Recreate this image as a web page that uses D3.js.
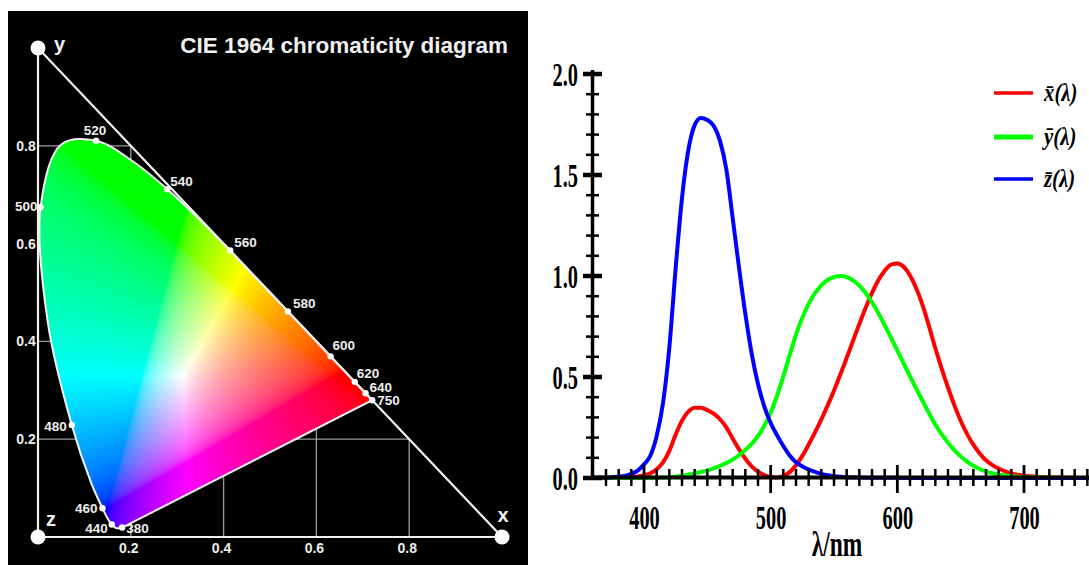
<!DOCTYPE html>
<html><head><meta charset="utf-8">
<script src="https://cdn.jsdelivr.net/npm/d3@7"></script>
<style>html,body{margin:0;padding:0;background:#fff;overflow:hidden}</style>
</head><body>
<svg id="chart" width="1089" height="565" xmlns="http://www.w3.org/2000/svg"></svg>
<script>
// ---------- Left panel data: CIE 1964 spectral locus (chromaticity x, y) ----------
const locusWl = [380,390,400,410,420,430,440,450,460,470,480,490,500,510,520,530,540,550,560,570,580,590,600,610,620,630,640,650,660,670,680,690,700];
const locusX  = [0.1814,0.1803,0.1784,0.1755,0.1706,0.1650,0.1590,0.1510,0.1389,0.1152,0.0728,0.0210,0.0056,0.0495,0.1252,0.2071,0.2786,0.3473,0.4142,0.4790,0.5386,0.5900,0.6306,0.6612,0.6827,0.6955,0.7059,0.7137,0.7168,0.7187,0.7198,0.7202,0.7203];
const locusY  = [0.0193,0.0193,0.0187,0.0181,0.0178,0.0203,0.0257,0.0364,0.0589,0.1090,0.2292,0.4401,0.6745,0.8023,0.8102,0.7663,0.7113,0.6501,0.5858,0.5210,0.4614,0.4100,0.3694,0.3388,0.3173,0.3045,0.2941,0.2863,0.2832,0.2813,0.2802,0.2798,0.2797];
const markWl  = [380,440,460,480,500,520,540,560,580,600,620,640,750];
const markX   = [0.1814,0.1590,0.1389,0.0728,0.0056,0.1252,0.2786,0.4142,0.5386,0.6306,0.6827,0.7059,0.7203];
const markY   = [0.0193,0.0257,0.0589,0.2292,0.6745,0.8102,0.7113,0.5858,0.4614,0.3694,0.3173,0.2941,0.2797];
const cieTicks = [0.2,0.4,0.6,0.8];
const cieTickLabels = ["0.2","0.4","0.6","0.8"];
const cieTitle = "CIE 1964 chromaticity diagram";
const cieAxisNames = ["x","y","z"];

// ---------- Right panel data: CIE 1931 colour matching functions ----------
const wavelengths = [360,365,370,375,380,385,390,395,400,405,410,415,420,425,430,435,440,445,450,455,460,465,470,475,480,485,490,495,500,505,510,515,520,525,530,535,540,545,550,555,560,565,570,575,580,585,590,595,600,605,610,615,620,625,630,635,640,645,650,655,660,665,670,675,680,685,690,695,700,705,710,715,720,725,730,735,740,745,750,755,760];
const xBar = [0.000130,0.000232,0.000415,0.000742,0.001368,0.002236,0.004243,0.007650,0.014310,0.023190,0.043510,0.077630,0.134380,0.214770,0.283900,0.328500,0.348280,0.348060,0.336200,0.318700,0.290800,0.251100,0.195360,0.142100,0.095640,0.057950,0.032010,0.014700,0.004900,0.002400,0.009300,0.029100,0.063270,0.109600,0.165500,0.225750,0.290400,0.359700,0.433450,0.512050,0.594500,0.678400,0.762100,0.842500,0.916300,0.978600,1.026300,1.056700,1.062200,1.045600,1.002600,0.938400,0.854450,0.751400,0.642400,0.541900,0.447900,0.360800,0.283500,0.218700,0.164900,0.121200,0.087400,0.063600,0.046770,0.032900,0.022700,0.015840,0.011359,0.008111,0.005790,0.004109,0.002899,0.002049,0.001440,0.001000,0.000690,0.000476,0.000332,0.000235,0.000166];
const yBar = [0.000004,0.000007,0.000012,0.000022,0.000039,0.000064,0.000120,0.000217,0.000396,0.000640,0.001210,0.002180,0.004000,0.007300,0.011600,0.016840,0.023000,0.029800,0.038000,0.048000,0.060000,0.073900,0.090980,0.112600,0.139020,0.169300,0.208020,0.258600,0.323000,0.407300,0.503000,0.608200,0.710000,0.793200,0.862000,0.914850,0.954000,0.980300,0.994950,1.000000,0.995000,0.978600,0.952000,0.915400,0.870000,0.816300,0.757000,0.694900,0.631000,0.566800,0.503000,0.441200,0.381000,0.321000,0.265000,0.217000,0.175000,0.138200,0.107000,0.081600,0.061000,0.044580,0.032000,0.023200,0.017000,0.011920,0.008210,0.005723,0.004102,0.002929,0.002091,0.001484,0.001047,0.000740,0.000520,0.000361,0.000249,0.000172,0.000120,0.000085,0.000060];
const zBar = [0.000606,0.001086,0.001946,0.003486,0.006450,0.010550,0.020050,0.036210,0.067850,0.110200,0.207400,0.371300,0.645600,1.039050,1.385600,1.622960,1.747060,1.782600,1.772110,1.744100,1.669200,1.528100,1.287640,1.041900,0.812950,0.616200,0.465180,0.353300,0.272000,0.212300,0.158200,0.111700,0.078250,0.057250,0.042160,0.029840,0.020300,0.013400,0.008750,0.005750,0.003900,0.002750,0.002100,0.001800,0.001650,0.001400,0.001100,0.001000,0.000800,0.000600,0.000340,0.000240,0.000190,0.000100,0.000050,0.000030,0.000020,0.000010,0,0,0,0,0,0,0,0,0,0,0,0,0,0,0,0,0,0,0,0,0,0,0];
const seriesNames = ["x\u0304(\u03bb)","y\u0304(\u03bb)","z\u0304(\u03bb)"];
const seriesColors = ["#ff0000","#00ff00","#0000ff"];
const yMajorTicks = [0,0.5,1.0,1.5,2.0];
const yTickLabels = ["0.0","0.5","1.0","1.5","2.0"];
const xMajorTicks = [400,500,600,700];
const xTickLabels = ["400","500","600","700"];
const xAxisTitle = "\u03bb/nm";

// ---------- layout (positions / styles only) ----------
const markLabelPos = {380:[4,5,"start"],440:[-4,9,"end"],460:[-5,5,"end"],480:[-5,6,"end"],500:[-3,4,"end"],520:[-1,-6,"middle"],540:[3,-3,"start"],560:[4,-4,"start"],580:[5,-3,"start"],600:[2,-6,"start"],620:[2,-4,"start"],640:[4,-1,"start"],750:[5,5,"start"]};

const svg = d3.select("#chart");
svg.append("rect").attr("width",1089).attr("height",565).attr("fill","#fff");
const defs = svg.append("defs");

// ================= LEFT PANEL =================
const L = svg.append("g");
L.append("rect").attr("x",8).attr("y",11).attr("width",520).attr("height",554).attr("fill","#000");
const cx = d3.scaleLinear().domain([0,1]).range([38,502]);
const cy = d3.scaleLinear().domain([0,1]).range([537,48]);

// grid lines clipped to triangle x+y<=1
L.append("g").selectAll("line.h").data(cieTicks).join("line")
  .attr("x1",cx(0)).attr("x2",d=>cx(1-d)).attr("y1",d=>cy(d)).attr("y2",d=>cy(d))
  .attr("stroke","#9a9a9a").attr("stroke-width",1.3);
L.append("g").selectAll("line.v").data(cieTicks).join("line")
  .attr("x1",d=>cx(d)).attr("x2",d=>cx(d)).attr("y1",cy(0)).attr("y2",d=>cy(1-d))
  .attr("stroke","#9a9a9a").attr("stroke-width",1.3);

// gamut
const pts = locusWl.map((w,i)=>({w, x:locusX[i], y:locusY[i]}));
const locusLine = d3.line().x(d=>cx(d.x)).y(d=>cy(d.y)).curve(d3.curveCatmullRom.alpha(0.5));
const locusPath = locusLine(pts) + "Z";
defs.append("clipPath").attr("id","gamutClip").append("path").attr("d",locusPath);

const W = 530, H = 565;
const cv = document.createElement("canvas"); cv.width = W; cv.height = H;
const ctx = cv.getContext("2d");
const img = ctx.createImageData(W,H);
function gam(c){ return c <= 0.0031308 ? 12.92*c : 1.055*Math.pow(c,1/2.4)-0.055; }
for (let py=0; py<H; py++){
  for (let px=0; px<W; px++){
    const x = cx.invert(px+0.5), y = cy.invert(py+0.5);
    if (y <= 0.004 || x < -0.01) continue;
    const X = x/y, Y = 1, Z = (1-x-y)/y;
    let r = Math.max(0, 3.2406*X - 1.5372*Y - 0.4986*Z);
    let g = Math.max(0, -0.9689*X + 1.8758*Y + 0.0415*Z);
    let b = Math.max(0, 0.0557*X - 0.2040*Y + 1.0570*Z);
    const M = Math.max(r,g,b) || 1;
    r/=M; g/=M; b/=M;
    const k = (py*W+px)*4;
    img.data[k]   = Math.round(255*gam(r));
    img.data[k+1] = Math.round(255*gam(g));
    img.data[k+2] = Math.round(255*gam(b));
    img.data[k+3] = 255;
  }
}
ctx.putImageData(img,0,0);
L.append("image").attr("href",cv.toDataURL()).attr("x",0).attr("y",0)
  .attr("width",W).attr("height",H).attr("clip-path","url(#gamutClip)");
L.append("path").attr("d",locusPath).attr("fill","none").attr("stroke","#f4f4f4").attr("stroke-width",2);

// triangle axes
const axPts = [[0,1],[0,0],[1,0]];
L.append("path").attr("d", d3.line().x(d=>cx(d[0])).y(d=>cy(d[1]))(axPts.concat([[0,1]])))
  .attr("fill","none").attr("stroke","#f0f0f0").attr("stroke-width",2.2);
L.selectAll("circle.corner").data(axPts).join("circle")
  .attr("cx",d=>cx(d[0])).attr("cy",d=>cy(d[1])).attr("r",7.5).attr("fill","#fff");

// marks
const marks = markWl.map((w,i)=>({w, x:markX[i], y:markY[i]}));
L.selectAll("circle.mark").data(marks).join("circle")
  .attr("cx",d=>cx(d.x)).attr("cy",d=>cy(d.y)).attr("r",3.2).attr("fill","#fff");
L.selectAll("text.mark").data(marks).join("text")
  .attr("x",d=>cx(d.x)+markLabelPos[d.w][0]).attr("y",d=>cy(d.y)+markLabelPos[d.w][1])
  .attr("text-anchor",d=>markLabelPos[d.w][2])
  .attr("font-family","Liberation Sans, Arial, sans-serif").attr("font-weight","bold").attr("font-size",13.5)
  .attr("fill","#eeeeee").text(d=>d.w);

// tick labels
L.selectAll("text.yt").data(cieTicks).join("text")
  .attr("x",26).attr("y",d=>cy(d)+5).attr("text-anchor","middle")
  .attr("font-family","Liberation Sans, Arial, sans-serif").attr("font-weight","bold").attr("font-size",14)
  .attr("fill","#eeeeee").text((d,i)=>cieTickLabels[i]);
L.selectAll("text.xt").data(cieTicks).join("text")
  .attr("x",d=>cx(d)-2).attr("y",553).attr("text-anchor","middle")
  .attr("font-family","Liberation Sans, Arial, sans-serif").attr("font-weight","bold").attr("font-size",14)
  .attr("fill","#eeeeee").text((d,i)=>cieTickLabels[i]);

// axis names & title
const nameStyle = s => s.attr("font-family","Liberation Sans, Arial, sans-serif").attr("font-weight","bold").attr("font-size",20).attr("fill","#f0f0f0");
L.append("text").attr("x",cx(1)+1).attr("y",522).attr("text-anchor","middle").call(nameStyle).text(cieAxisNames[0]);
L.append("text").attr("x",54).attr("y",51).call(nameStyle).text(cieAxisNames[1]);
L.append("text").attr("x",46).attr("y",526).call(nameStyle).text(cieAxisNames[2]);
L.append("text").attr("x",508).attr("y",53).attr("text-anchor","end")
  .attr("font-family","Liberation Sans, Arial, sans-serif").attr("font-weight","bold").attr("font-size",22.5)
  .attr("fill","#f0f0f0").text(cieTitle);

// ================= RIGHT PANEL =================
const R = svg.append("g");
const rx = d3.scaleLinear().domain([360,760]).range([593.33,1100]);
const ry = d3.scaleLinear().domain([0,2]).range([478,74]);
defs.append("clipPath").attr("id","plotClip").append("rect").attr("x",592).attr("y",0).attr("width",497).attr("height",565);

const series = [xBar,yBar,zBar];
const curve = d3.line().x((d,i)=>rx(wavelengths[i])).y(d=>ry(d)).curve(d3.curveMonotoneX);
R.append("g").attr("clip-path","url(#plotClip)").selectAll("path").data(series).join("path")
  .attr("d",d=>curve(d)).attr("fill","none").attr("stroke",(d,i)=>seriesColors[i])
  .attr("stroke-width",4).attr("stroke-linejoin","round");

// axes lines
R.append("line").attr("x1",592.5).attr("x2",592.5).attr("y1",ry(0)+1).attr("y2",ry(2)-4).attr("stroke","#000").attr("stroke-width",3.5);
R.append("line").attr("x1",592).attr("x2",1089).attr("y1",477.5).attr("y2",477.5).attr("stroke","#000").attr("stroke-width",4);

// y ticks
const yMinor = d3.range(0,21).map(i=>i/10).filter(v=>Math.abs(v*2-Math.round(v*2))>1e-6);
R.selectAll("line.ymin").data(yMinor).join("line")
  .attr("x1",586).attr("x2",599).attr("y1",d=>ry(d)).attr("y2",d=>ry(d)).attr("stroke","#000").attr("stroke-width",2.5);
R.selectAll("line.ymaj").data(yMajorTicks).join("line")
  .attr("x1",583).attr("x2",602).attr("y1",d=>ry(d)).attr("y2",d=>ry(d)).attr("stroke","#000").attr("stroke-width",4.5);
// x ticks
const xMinor = d3.range(370,760,10).filter(v=>v%100!==0);
R.selectAll("line.xmin").data(xMinor).join("line")
  .attr("x1",d=>rx(d)).attr("x2",d=>rx(d)).attr("y1",469).attr("y2",486).attr("stroke","#000").attr("stroke-width",2.5);
R.selectAll("line.xmaj").data(xMajorTicks).join("line")
  .attr("x1",d=>rx(d)).attr("x2",d=>rx(d)).attr("y1",465).attr("y2",493).attr("stroke","#000").attr("stroke-width",2.8);

// tick labels via d3 axes (text only)
const serif = "Liberation Serif, Times New Roman, serif";
const yAx = R.append("g").attr("transform","translate(592,0)")
  .call(d3.axisLeft(ry).tickValues(yMajorTicks).tickFormat((d,i)=>yTickLabels[i]).tickSize(0).tickPadding(0));
yAx.select(".domain").remove();
yAx.selectAll("text").attr("x",-14/0.6).attr("dy","0.35em").attr("transform","scale(0.6,1)")
  .attr("font-family",serif).attr("font-weight","bold").attr("font-size",34).attr("fill","#000");
const xAx = R.append("g").attr("transform","translate(0,477)")
  .call(d3.axisBottom(rx).tickValues(xMajorTicks).tickFormat((d,i)=>xTickLabels[i]).tickSize(0).tickPadding(0));
xAx.select(".domain").remove();
xAx.selectAll("text").attr("y",52).attr("dy",0).attr("transform","scale(0.6,1)")
  .attr("font-family",serif).attr("font-weight","bold").attr("font-size",34).attr("fill","#000");
R.append("text").attr("transform","translate(837,556) scale(0.65,1)").attr("text-anchor","middle")
  .attr("font-family",serif).attr("font-weight","bold").attr("font-size",36).attr("fill","#000").text(xAxisTitle);

// legend
const legY = [93,137,179];
const lg = R.append("g");
lg.selectAll("line").data(seriesNames).join("line")
  .attr("x1",994).attr("x2",1033).attr("y1",(d,i)=>legY[i]).attr("y2",(d,i)=>legY[i])
  .attr("stroke",(d,i)=>seriesColors[i]).attr("stroke-width",(d,i)=>i===1?5:3.5);
lg.selectAll("text").data(seriesNames).join("text")
  .attr("transform",(d,i)=>`translate(1044,${legY[i]+8}) scale(0.8,1)`)
  .attr("font-family",serif).attr("font-style","italic").attr("font-weight","bold").attr("font-size",26).attr("fill","#000").text(d=>d);
</script>
</body></html>
